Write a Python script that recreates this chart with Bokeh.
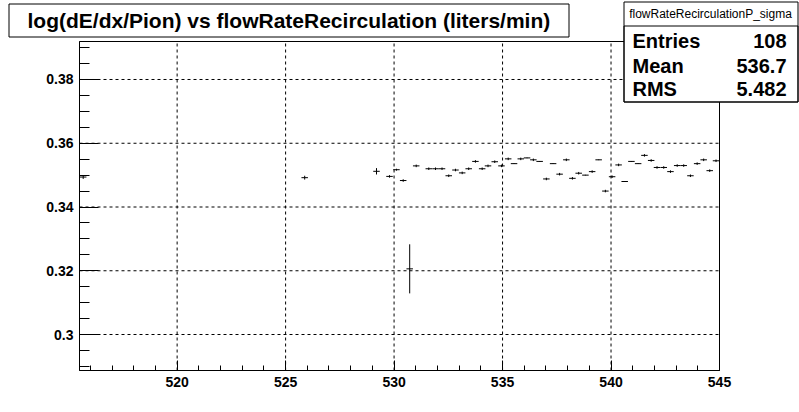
from bokeh.plotting import figure
from bokeh.models import ColumnDataSource, FixedTicker, BoxAnnotation, Label, Range1d
from bokeh.embed import file_html
from bokeh.resources import INLINE

# ---- data (profile points: bin centre, mean, error on mean) ----
x_vals = [515.67, 525.88, 529.19, 529.79, 530.11, 530.42, 530.72, 531.02,
          531.60, 531.91, 532.21, 532.52, 532.83, 533.14, 533.44, 533.75,
          534.06, 534.33, 534.64, 534.95, 535.26, 535.53, 535.84, 536.13,
          536.42, 536.71, 537.02, 537.33, 537.63, 537.94, 538.22, 538.51,
          538.82, 539.13, 539.43, 539.74, 540.05, 540.35, 540.63, 540.94,
          541.25, 541.54, 541.85, 542.12, 542.43, 542.74, 543.05, 543.35,
          543.66, 543.97, 544.27, 544.55, 544.84]
y_vals = [0.3494, 0.3492, 0.3512, 0.3496, 0.3517, 0.3483, 0.3206, 0.3529,
          0.3520, 0.3520, 0.3520, 0.3498, 0.3516, 0.3507, 0.3520, 0.3543,
          0.3520, 0.3529, 0.3542, 0.3529, 0.3551, 0.3536, 0.3551, 0.3554,
          0.3548, 0.3543, 0.3488, 0.3536, 0.3503, 0.3548, 0.3490, 0.3506,
          0.3500, 0.3511, 0.3548, 0.3450, 0.3495, 0.3532, 0.3480, 0.3543,
          0.3536, 0.3562, 0.3546, 0.3524, 0.3524, 0.3511, 0.3530, 0.3530,
          0.3498, 0.3536, 0.3548, 0.3514, 0.3545]
y_errs = [0.0006, 0.0006, 0.0010, 0.0004, 0.0003, 0.0004, 0.0077, 0.0004,
          0.0004, 0.0004, 0.0004, 0.0004, 0.0004, 0.0004, 0.0004, 0.0004,
          0.0004, 0.0004, 0.0004, 0.0004, 0.0004, 0.0001, 0.0004, 0.0001,
          0.0004, 0.0001, 0.0004, 0.0001, 0.0004, 0.0004, 0.0004, 0.0004,
          0.0001, 0.0004, 0.0001, 0.0004, 0.0004, 0.0004, 0.0001, 0.0001,
          0.0001, 0.0004, 0.0004, 0.0004, 0.0004, 0.0004, 0.0004, 0.0004,
          0.0004, 0.0004, 0.0004, 0.0004, 0.0004]
bin_half = 0.15

x_ticks = [520, 525, 530, 535, 540, 545]
x_tick_labels = ["520", "525", "530", "535", "540", "545"]
x_minor = [516, 517, 518, 519, 521, 522, 523, 524, 526, 527, 528, 529,
           531, 532, 533, 534, 536, 537, 538, 539, 541, 542, 543, 544]
y_ticks = [0.30, 0.32, 0.34, 0.36, 0.38]
y_tick_labels = ["0.3", "0.32", "0.34", "0.36", "0.38"]
y_minor = [0.290, 0.295, 0.305, 0.310, 0.315, 0.325, 0.330, 0.335, 0.345,
           0.350, 0.355, 0.365, 0.370, 0.375, 0.385, 0.390]

X_LO, X_HI = 515.5, 545.0      # axis range of the pad frame
Y_LO, Y_HI = 0.28871, 0.39192

title_text = "log(dE/dx/Pion) vs flowRateRecirculation (liters/min)"
stats_name = "flowRateRecirculationP_sigma"
stats_labels = ["Entries", "Mean", "RMS"]
stats_values = ["108", "536.7", "5.482"]

# ---- layout (canvas pixels, top-down) ----
W, H = 799, 412
PL, PR, PT, PB = 79, 719, 41, 370   # pad frame edges
FONT = "Liberation Sans"

kx = (PR - PL) / (X_HI - X_LO)
ky = (PB - PT) / (Y_HI - Y_LO)
x_range = Range1d(X_LO - PL / kx, X_HI + (W - PR) / kx)
y_range = Range1d(Y_LO - (H - PB) / ky, Y_HI + PT / ky)

p = figure(width=W, height=H, x_range=x_range, y_range=y_range,
           output_backend="svg", toolbar_location=None,
           min_border_left=0, min_border_right=0,
           min_border_top=0, min_border_bottom=0)
p.background_fill_color = "white"
p.border_fill_color = "white"
p.outline_line_color = None
p.grid.visible = False

xt = FixedTicker(ticks=x_ticks, minor_ticks=x_minor)
yt = FixedTicker(ticks=y_ticks, minor_ticks=y_minor)

xa, ya = p.xaxis[0], p.yaxis[0]
xa.fixed_location = Y_LO
xa.bounds = (X_LO, X_HI)
ya.fixed_location = X_LO
ya.bounds = (Y_LO, Y_HI)
for ax, t, labs, maj, mnr in ((xa, xt, dict(zip(x_ticks, x_tick_labels)), 10, 5),
                              (ya, yt, dict(zip(y_ticks, y_tick_labels)), 19, 10)):
    ax.ticker = t
    ax.major_label_overrides = labs
    ax.axis_line_color = "black"
    ax.major_tick_line_color = "black"
    ax.minor_tick_line_color = "black"
    ax.major_tick_in = maj
    ax.major_tick_out = 0
    ax.minor_tick_in = mnr
    ax.minor_tick_out = 0
    ax.major_label_text_font = FONT
    ax.major_label_text_font_style = "bold"
    ax.major_label_text_font_size = "14px"
    ax.major_label_text_color = "black"
    ax.major_label_standoff = 6

# dashed grid inside the pad frame, at the major ticks
p.segment(x0=x_ticks, y0=[Y_LO] * len(x_ticks), x1=x_ticks, y1=[Y_HI] * len(x_ticks),
          line_color="black", line_dash="3 3", line_width=1)
p.segment(x0=[X_LO] * len(y_ticks), y0=y_ticks, x1=[X_HI] * len(y_ticks), y1=y_ticks,
          line_color="black", line_dash="3 3", line_width=1)
# pad frame
p.quad(left=[X_LO], right=[X_HI], bottom=[Y_LO], top=[Y_HI],
       fill_color=None, line_color="black", line_width=1)

src = ColumnDataSource(dict(
    x=x_vals, y=y_vals,
    xl=[v - bin_half for v in x_vals], xr=[v + bin_half for v in x_vals],
    yl=[v - e for v, e in zip(y_vals, y_errs)], yh=[v + e for v, e in zip(y_vals, y_errs)],
))
p.segment(x0="xl", y0="y", x1="xr", y1="y", source=src, line_color="black", line_width=1)
p.segment(x0="x", y0="yl", x1="x", y1="yh", source=src, line_color="black", line_width=1)

# screen helpers: canvas px (top-down) -> screen units (from bottom-left)
def sy(Y):
    return H - Y

def box(l, t, r, b, fill="white"):
    return BoxAnnotation(left=l, right=r, top=sy(t), bottom=sy(b),
                         left_units="screen", right_units="screen",
                         top_units="screen", bottom_units="screen",
                         fill_color=fill, fill_alpha=1 if fill else 0,
                         line_color="black", line_width=1, line_alpha=1)

def label(x, y, text, size, align="left", bold=True):
    return Label(x=x, y=sy(y), x_units="screen", y_units="screen", text=text,
                 text_font=FONT, text_font_style="bold" if bold else "normal",
                 text_font_size=size, text_baseline="middle", text_align=align,
                 text_color="black")

# title box
p.add_layout(box(8.5, 3.5, 568.5, 36.5))
p.add_layout(label(27, 20, title_text, "21px"))

# stats box
p.add_layout(box(623.5, 1.5, 797.5, 101.5))
p.add_layout(box(623.5, 25.5, 797.5, 101.5, fill=None))
p.add_layout(label(710, 13, stats_name, "12px", align="center", bold=False))
rows_y = [40, 65, 88]
for lab, val, yy in zip(stats_labels, stats_values, rows_y):
    p.add_layout(label(632, yy, lab, "20px"))
    p.add_layout(label(786, yy, val, "20px", align="right"))

open("out.html", "w").write(file_html(p, INLINE))
